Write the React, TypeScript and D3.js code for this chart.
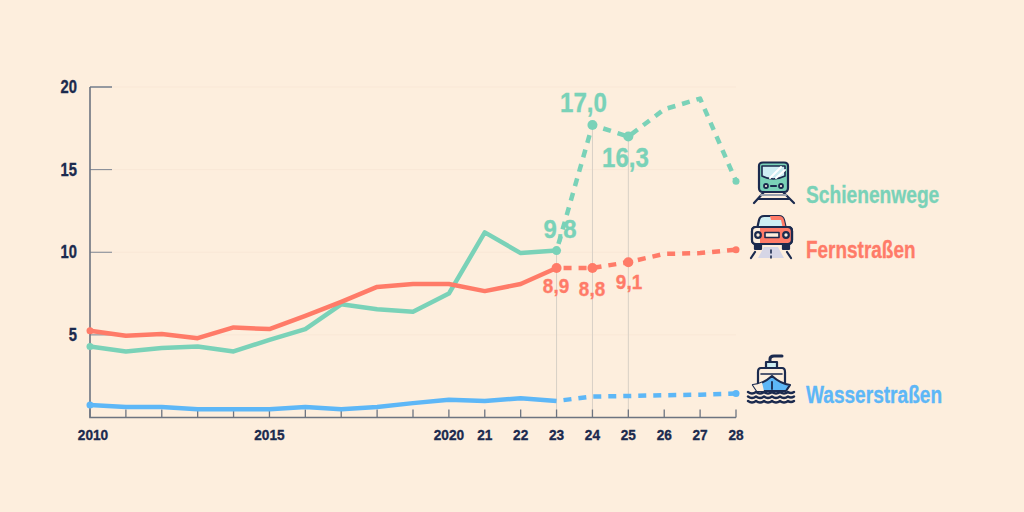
import React from "react";
import * as d3 from "d3";

const years = [2010,2011,2012,2013,2014,2015,2016,2017,2018,2019,2020,2021,2022,2023,2024,2025,2026,2027,2028];
const xLabels = ["2010","","","","","2015","","","","","2020","21","22","23","24","25","26","27","28"];
const yTicks = [5,10,15,20];
const schiene = [4.3,4.0,4.2,4.3,4.0,4.7,5.35,6.85,6.55,6.4,7.5,11.2,9.95,10.1,17.7,17.0,18.65,19.3,14.3];
const strasse = [5.25,4.95,5.05,4.8,5.45,5.35,6.15,7.0,7.9,8.08,8.08,7.65,8.08,9.05,9.05,9.4,9.9,9.95,10.15];
const wasser = [0.75,0.63,0.63,0.5,0.5,0.5,0.63,0.5,0.63,0.87,1.08,1.0,1.17,1.0,1.27,1.3,1.35,1.38,1.45];
const LAST_ACTUAL = 2023;
const GREEN = "#7ad2b8", RED = "#ff7b68", BLUE = "#5db7f7", NAVY = "#1b2a4e", BG = "#fdeedd", GLASS = "#cdeef3";

const x = d3.scaleLinear().domain([2010,2028]).range([90,736]);
const y = d3.scaleLinear().domain([0,20]).range([417.5,87]);
const FONT = "'Liberation Sans','Arial',sans-serif";

function Series({vals,color}:{vals:number[];color:string}) {
  const n = years.indexOf(LAST_ACTUAL);
  const line = d3.line<number>().x((_,i)=>x(years[i])).y(d=>y(d));
  const future = d3.line<number>().x((_,i)=>x(years[i+n])).y(d=>y(d));
  return <g fill="none" stroke={color} strokeWidth={4.5}>
    <path d={line(vals.slice(0,n+1))!} strokeLinejoin="round"/>
    <path d={future(vals.slice(n))!} strokeDasharray="8 7" strokeDashoffset={8} strokeLinejoin="round"/>
    <circle cx={x(2010)} cy={y(vals[0])} r={3.5} fill={color} stroke="none"/>
    <circle cx={x(2028)} cy={y(vals[18])} r={3.5} fill={color} stroke="none"/>
  </g>;
}

function Lbl({t,px,py,size,color,sx=0.8,anchor="middle"}:{t:string;px:number;py:number;size:number;color:string;sx?:number;anchor?:string}) {
  return <text transform={`translate(${px},${py}) scale(${sx},1)`} fontSize={size} fill={color} stroke={color} strokeWidth={0.35} fontWeight={700} textAnchor={anchor as any} fontFamily={FONT}>{t}</text>;
}

function Train() {
  return <g transform="translate(755,161)" stroke={NAVY} strokeWidth={2.2} strokeLinejoin="round" strokeLinecap="round">
    <path d="M4 5 Q4 1.5 8 1.5 H29 Q33 1.5 33 5 V27 Q33 31 29 31 H8 Q4 31 4 27 Z" fill={GREEN}/>
    <path d="M7 5 H30 V15 Q18 21 7 15 Z" fill={GLASS} strokeWidth={1.6}/>
    <path d="M15 17 L26 6 M21 17 L30 9" stroke="#fff" strokeWidth={2}/>
    <circle cx={11} cy={25} r={2} fill={BG} strokeWidth={1.8}/><circle cx={26} cy={25} r={2} fill={BG} strokeWidth={1.8}/>
    <path d="M16 25 H21"/>
    <path d="M9 31 L-1 42 M28 31 L39 42" fill="none"/>
    <path d="M6 34 H31" stroke="#9aa0ad" fill="none"/>
    <path d="M3 38 H34" stroke={NAVY} fill="none"/>
  </g>;
}

function Car() {
  return <g transform="translate(750,214)" stroke={NAVY} strokeWidth={2.2} strokeLinejoin="round" strokeLinecap="round">
    <path d="M14 33 L8 44 H34 L28 33 Z" fill="#d6d6e6" stroke="none"/>
    <path d="M21 36 V44" strokeDasharray="3 3" strokeWidth={1.6}/>
    <path d="M5 38 L1 44 M37 38 L41 44" fill="none"/>
    <path d="M7 15 L9 6 Q10 2 14 2 H29 Q33 2 34 6 L36 15 Z" fill={GLASS}/>
    <path d="M20 2 H29 Q33 2 34 6 L36 15 H33 L31 6 H21 Z" fill={RED} stroke="none"/>
    <path d="M2 17 Q2 13 6 13 H38 Q42 13 42 17 V26 Q42 30 38 30 H6 Q2 30 2 26 Z" fill={RED}/>
    <path d="M2 17 Q2 13 6 13 H10 V30 H6 Q2 30 2 26 Z" fill={BG} stroke="none"/>
    <path d="M2 17 Q2 13 6 13 H38 Q42 13 42 17 V26 Q42 30 38 30 H6 Q2 30 2 26 Z" fill="none"/>
    <circle cx={8} cy={21} r={2.8} fill={BG}/><circle cx={36} cy={21} r={2.8} fill={BG}/>
    <rect x={15} y={18.5} width={14} height={5} fill={BG} strokeWidth={1.6}/>
    <path d="M5 30 V35 H11 V30 M33 30 V35 H39 V30" fill={NAVY}/>
  </g>;
}

function Ship() {
  return <g transform="translate(747,354)" stroke={NAVY} strokeWidth={2.2} strokeLinejoin="round" strokeLinecap="round">
    <path d="M23 8 V5 Q23 2 27 2 H35" fill="none" strokeWidth={3}/>
    <rect x={19} y={8} width={11} height={6} fill={GLASS}/>
    <path d="M14 14 H35 Q38 14 38 18 V30 H11 V18 Q11 14 14 14 Z" fill={BG}/>
    <path d="M14 20 H35" strokeWidth={1.6}/>
    <path d="M6 31 Q16 30 25 22 Q34 30 43 31 L39 37 H10 Z" fill={BLUE}/>
    <path d="M6 31 Q11 30.500 15 28.500 L17 37 H10 Z" fill={BG} stroke="none"/>
    <path d="M25 28 V35" strokeWidth={1.8}/>
    <g fill="none" strokeWidth={2.4}>
      <path d="M1 38 q4 3 8 0 q4 3 8 0 q4 3 8 0 q4 3 8 0 q4 3 8 0 q3 2 6 0"/>
      <path d="M1 42.500 q4 3 8 0 q4 3 8 0 q4 3 8 0 q4 3 8 0 q4 3 8 0 q3 2 6 0"/>
      <path d="M1 47 q4 3 8 0 q4 3 8 0 q4 3 8 0 q4 3 8 0 q4 3 8 0 q3 2 6 0"/>
    </g>
  </g>;
}

export default function App() {
  return <svg width={1024} height={512} style={{position:"absolute",left:0,top:0,background:BG}}>
    <rect width={1024} height={512} fill={BG}/>
    {yTicks.map(t=><line key={t} x1={x(2010)} x2={x(2028)} y1={y(t)} y2={y(t)} stroke="#f9e7d6" strokeWidth={1}/>)}
    {yTicks.map(t=><line key={t} x1={x(2010)} x2={x(2010)+22} y1={y(t)} y2={y(t)} stroke="#7c8592" strokeWidth={t===20?1.6:1}/>)}
    {[2023,2024,2025].map(yr=><line key={yr} x1={x(yr)} x2={x(yr)} y1={y(schiene[years.indexOf(yr)])} y2={y(0)} stroke="#d8d0c6" strokeWidth={1}/>)}
    <path d={`M${x(2010)} ${y(20)} V${y(0)} H${x(2028)}`} fill="none" stroke="#6d7480" strokeWidth={1.6}/>
    {years.map(yr=><line key={yr} x1={x(yr)} x2={x(yr)} y1={y(0)} y2={y(0)-8} stroke="#6d7480" strokeWidth={1.3}/>)}
    {yTicks.map(t=><Lbl key={t} t={String(t)} px={77} py={y(t)+6} size={18} sx={0.82} color={NAVY} anchor="end"/>)}
    {xLabels.map((l,i)=>l&&<Lbl key={i} t={l} px={i===0?x(years[i])+3:x(years[i])} py={440} size={15.5} sx={0.88} color={NAVY}/>)}
    <Series vals={schiene} color={GREEN}/>
    <Series vals={strasse} color={RED}/>
    <Series vals={wasser} color={BLUE}/>
    {[2023,2024,2025].map(yr=>{const i=years.indexOf(yr);return <g key={yr}>
      <circle cx={x(yr)} cy={y(schiene[i])} r={yr===2023?4.5:5} fill={GREEN}/>
      <circle cx={x(yr)} cy={y(strasse[i])} r={5} fill={RED}/>
    </g>;})}
    <Lbl t="9,8" px={560} py={238} size={26} sx={0.92} color={GREEN}/>
    <Lbl t="17,0" px={583.500} py={112} size={28} sx={0.86} color={GREEN}/>
    <Lbl t="16,3" px={625.500} py={167} size={28} sx={0.86} color={GREEN}/>
    <Lbl t="8,9" px={556} py={293} size={21} sx={0.9} color={RED}/>
    <Lbl t="8,8" px={592} py={296} size={21} sx={0.9} color={RED}/>
    <Lbl t="9,1" px={629} py={289} size={21} sx={0.9} color={RED}/>
    <Lbl t="Schienenwege" px={806} py={203} size={24} sx={0.8} color={GREEN} anchor="start"/>
    <Lbl t="Fernstraßen" px={806} py={258} size={24} sx={0.79} color={RED} anchor="start"/>
    <Lbl t="Wasserstraßen" px={806} py={403} size={24} sx={0.795} color={BLUE} anchor="start"/>
    <Train/><Car/><Ship/>
  </svg>;
}
